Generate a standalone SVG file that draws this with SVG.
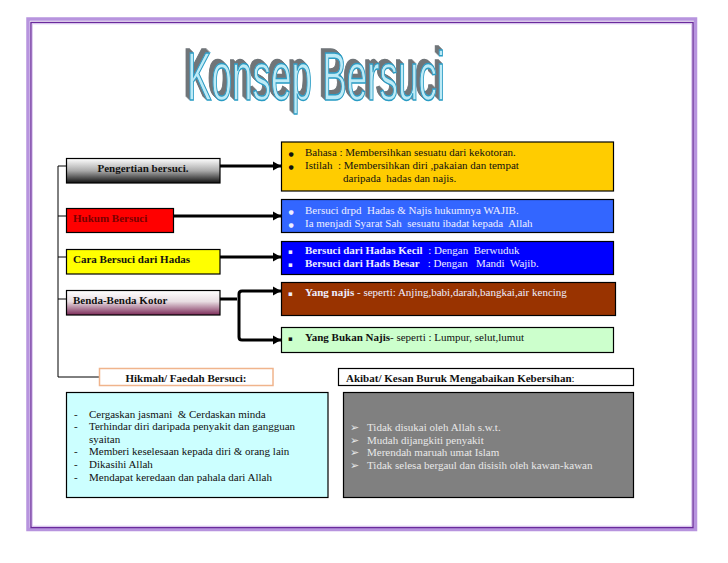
<svg xmlns="http://www.w3.org/2000/svg" width="728" height="563" viewBox="0 0 728 563">
<style>
text{font-family:"Liberation Serif","Times New Roman",serif;font-size:11px;fill:#111;white-space:pre}
.b{font-weight:bold}
.w{fill:#eef}
.g{fill:#e8e8e8}
.box{stroke:#000;stroke-width:1.2}
.bu{font-family:"DejaVu Sans",sans-serif;font-size:6px}
.sq{font-family:"DejaVu Sans",sans-serif;font-size:7px}
.ar{font-family:"DejaVu Sans",sans-serif;font-size:11px}
.c{fill:none;stroke:#000;stroke-linecap:butt}
.t{stroke-width:1}
.a{stroke-width:3;marker-end:url(#arr)}
</style>
<defs>
<marker id="arr" markerUnits="userSpaceOnUse" markerWidth="10" markerHeight="10" refX="8" refY="5" orient="auto"><path d="M0,0.5 L8,5 L0,9.5 Z" fill="#000"/></marker>
<linearGradient id="gr1" x1="0" y1="0" x2="0" y2="1"><stop offset="0" stop-color="#fff"/><stop offset="0.5" stop-color="#aaa"/><stop offset="1" stop-color="#111"/></linearGradient>
<linearGradient id="gr2" x1="0" y1="0" x2="0" y2="1"><stop offset="0" stop-color="#fff"/><stop offset="0.45" stop-color="#e8dde2"/><stop offset="1" stop-color="#7c2a58"/></linearGradient>
<filter id="sh" x="-5%" y="-10%" width="110%" height="125%">
<feOffset in="SourceAlpha" dx="-1" dy="-1" result="o1"/><feOffset in="SourceAlpha" dx="-2" dy="-2" result="o2"/><feOffset in="SourceAlpha" dx="-3" dy="-3" result="o3"/><feOffset in="SourceAlpha" dx="-4" dy="-4" result="o4"/>
<feMerge result="m"><feMergeNode in="o1"/><feMergeNode in="o2"/><feMergeNode in="o3"/><feMergeNode in="o4"/></feMerge>
<feFlood flood-color="#6f7478"/><feComposite in2="m" operator="in" result="s"/>
<feMerge><feMergeNode in="s"/><feMergeNode in="SourceGraphic"/></feMerge>
</filter>
</defs>
<rect width="728" height="563" fill="#fff"/>
<g id="frame" fill="none">
<rect x="28" y="19" width="667.500" height="510.500" stroke="#b794de" stroke-width="3.500"/>
<rect x="31" y="22.500" width="662" height="505" stroke="#6a2a9c" stroke-width="1.500"/>
<rect x="32.300" y="23.800" width="659.400" height="502.400" stroke="#d8c4ee" stroke-width="1"/>
</g>
<g id="title"><text x="187" y="100" textLength="258" lengthAdjust="spacingAndGlyphs" filter="url(#sh)" style="font-family:'Liberation Sans',Arial,sans-serif;font-size:68px;fill:#bdeaf6;stroke:#2a9cc4;stroke-width:1.500">Konsep Bersuci</text></g>
<g id="connectors">
<path class="c t" d="M66,166 H58 V377 H99 M58,216 H66 M58,257 H66 M58,299 H66"/>
<path class="c a" d="M220,166 H281"/>
<path class="c a" d="M173.500,216 H281"/>
<path class="c a" d="M220,257 H281"/>
<path class="c" stroke-width="3" d="M220,299 H237"/>
<path class="c a" d="M239,315 V294 Q239,291 242,291 H281"/>
<path class="c a" d="M239,315 V337 Q239,340 242,340 H281"/>
</g>
<g id="n1"><rect class="box" x="66.500" y="158.500" width="153.500" height="24.500" fill="url(#gr1)"/><text class="b" x="143" y="172" text-anchor="middle">Pengertian bersuci.</text></g>
<g id="n2"><rect class="box" x="66.500" y="208.500" width="107" height="24" fill="#f00"/><text class="b" x="73" y="222" style="fill:#7a0000">Hukum Bersuci</text></g>
<g id="n3"><rect class="box" x="66.500" y="249.500" width="153.500" height="24.500" fill="#ff0"/><text class="b" x="73" y="263">Cara Bersuci dari Hadas</text></g>
<g id="n4"><rect class="box" x="66.500" y="290.500" width="153.500" height="24.500" fill="url(#gr2)"/><text class="b" x="73" y="304">Benda-Benda Kotor</text></g>
<g id="n5"><rect x="99.500" y="368.500" width="173.500" height="17" fill="#fff" stroke="#f0b48c" stroke-width="1.500"/><text class="b" x="186" y="382" text-anchor="middle">Hikmah/ Faedah Bersuci:</text></g>
<g id="r1"><rect class="box" x="281.500" y="142" width="332" height="49" fill="#fc0"/>
<text class="bu" x="288.500" y="155.500">●</text><text x="305" y="156">Bahasa : Membersihkan sesuatu dari kekotoran.</text>
<text class="bu" x="288.500" y="168.500">●</text><text x="305" y="169">Istilah  : Membersihkan diri ,pakaian dan tempat</text>
<text x="343" y="182">daripada  hadas dan najis.</text></g>
<g id="r2"><rect class="box" x="281.500" y="199.500" width="332" height="33" fill="#36f"/>
<text class="bu w" x="288.500" y="213.500">●</text><text class="w" x="305" y="214">Bersuci drpd  Hadas &amp; Najis hukumnya WAJIB.</text>
<text class="bu w" x="288.500" y="226.500">●</text><text class="w" x="305" y="227">Ia menjadi Syarat Sah  sesuatu ibadat kepada  Allah</text></g>
<g id="r3"><rect class="box" x="281.500" y="241.500" width="332" height="33" fill="#00f"/>
<text class="sq w" x="288" y="253.500">▪</text><text class="w" x="305" y="254"><tspan class="b">Bersuci dari Hadas Kecil </tspan> : Dengan  Berwuduk</text>
<text class="sq w" x="288" y="266.500">▪</text><text class="w" x="305" y="267"><tspan class="b">Bersuci dari Hads Besar  </tspan> : Dengan   Mandi  Wajib.</text></g>
<g id="r4"><rect class="box" x="281.500" y="282.500" width="334" height="33" fill="#930"/>
<text class="sq w" x="288" y="295.500">▪</text><text class="w" x="305" y="296"><tspan class="b">Yang najis</tspan> - seperti: Anjing,babi,darah,bangkai,air kencing</text></g>
<g id="r5"><rect class="box" x="281.500" y="327.500" width="332" height="25" fill="#cfc"/>
<text class="sq" x="288" y="340.500">▪</text><text x="305" y="341"><tspan class="b">Yang Bukan Najis</tspan>- seperti : Lumpur, selut,lumut</text></g>
<g id="n6"><rect class="box" x="338.500" y="368.500" width="295" height="17" fill="#fff"/><text x="346" y="382"><tspan class="b">Akibat/ Kesan Buruk Mengabaikan Kebersihan</tspan>:</text></g>
<g id="n7"><rect class="box" x="66.500" y="392.500" width="261.500" height="105" fill="#cff"/>
<text x="74" y="418">-</text><text x="89" y="418">Cergaskan jasmani  &amp; Cerdaskan minda</text>
<text x="74" y="430">-</text><text x="89" y="430">Terhindar diri daripada penyakit dan gangguan</text>
<text x="89" y="442.500">syaitan</text>
<text x="74" y="455">-</text><text x="89" y="455">Memberi keselesaan kepada diri &amp; orang lain</text>
<text x="74" y="468">-</text><text x="89" y="468">Dikasihi Allah</text>
<text x="74" y="481">-</text><text x="89" y="481">Mendapat keredaan dan pahala dari Allah</text></g>
<g id="n8"><rect class="box" x="343.500" y="392.500" width="290" height="105" fill="#808080"/>
<text class="ar g" x="350" y="431">➢</text><text class="g" x="367" y="431">Tidak disukai oleh Allah s.w.t.</text>
<text class="ar g" x="350" y="443.500">➢</text><text class="g" x="367" y="443.500">Mudah dijangkiti penyakit</text>
<text class="ar g" x="350" y="456">➢</text><text class="g" x="367" y="456">Merendah maruah umat Islam</text>
<text class="ar g" x="350" y="469">➢</text><text class="g" x="367" y="469">Tidak selesa bergaul dan disisih oleh kawan-kawan</text></g>
</svg>
